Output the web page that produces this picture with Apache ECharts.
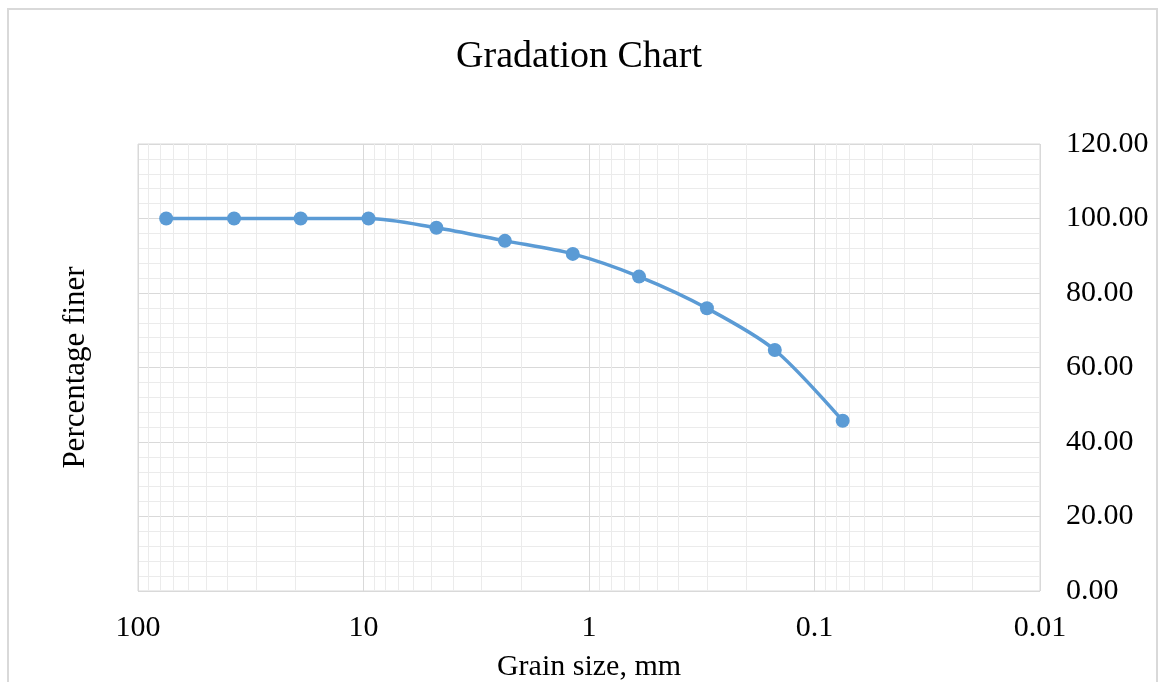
<!DOCTYPE html>
<html>
<head>
<meta charset="utf-8">
<script src="https://cdn.jsdelivr.net/npm/echarts@6/dist/echarts.min.js"></script>
<style>
  html, body { margin: 0; padding: 0; background: #fff; }
  #chart { width: 1158px; height: 682px; }
</style>
</head>
<body>
<div id="chart"></div>
<script>
// sieve sizes (mm) and percentage passing
var grainSize = [75, 37.5, 19, 9.5, 4.75, 2.36, 1.18, 0.6, 0.3, 0.15, 0.075];
var percentFiner = [100, 100, 100, 100, 97.5, 94.0, 90.5, 84.4, 75.9, 64.7, 45.7];
var xTickLabels = ["100", "10", "1", "0.1", "0.01"];

var serif = "'Liberation Serif', 'Times New Roman', serif";

// log minor grid lines at 2..9 of every decade
var minorX = [];
for (var e = -2; e <= 1; e++) {
  for (var k = 2; k <= 9; k++) {
    minorX.push({ xAxis: k * Math.pow(10, e) });
  }
}

var chart = echarts.init(document.getElementById("chart"));
chart.setOption({
  animation: false,
  backgroundColor: "#fff",
  title: {
    text: "Gradation Chart",
    left: "center",
    top: 33,
    textStyle: { fontFamily: serif, fontSize: 38, fontWeight: "normal", color: "#000" },
  },
  graphic: [
    {
      type: "rect",
      shape: { x: 8, y: 9, width: 1149, height: 720 },
      style: { fill: "none", stroke: "#d9d9d9", lineWidth: 2 },
      silent: true,
      z: -1,
    },
  ],
  grid: {
    left: 138,
    right: 118,
    top: 144,
    bottom: 91,
    show: true,
    borderColor: "#d9d9d9",
    borderWidth: 1,
    containLabel: false,
    outerBoundsMode: "none",
  },
  xAxis: {
    type: "log",
    logBase: 10,
    min: 0.01,
    max: 100,
    inverse: true,
    name: "Grain size, mm",
    nameLocation: "middle",
    nameGap: 61,
    nameTextStyle: { fontFamily: serif, fontSize: 30, color: "#000" },
    axisLine: { show: false },
    axisTick: { show: false },
    axisLabel: {
      fontFamily: serif,
      fontSize: 30,
      color: "#000",
      margin: 22,
      formatter: function (v) {
        var idx = Math.round(2 - Math.log10(v));
        return xTickLabels[idx];
      },
    },
    splitLine: { show: true, lineStyle: { color: "#d9d9d9", width: 1 } },
  },
  yAxis: [
    {
      type: "value",
      position: "right",
      min: 0,
      max: 120,
      interval: 20,
      axisLine: { show: false },
      axisTick: { show: false },
      axisLabel: {
        fontFamily: serif,
        fontSize: 30,
        color: "#000",
        margin: 26,
        formatter: function (v) { return v.toFixed(2); },
      },
      splitLine: { show: true, lineStyle: { color: "#d9d9d9", width: 1 } },
      minorTick: { show: false, splitNumber: 5 },
      minorSplitLine: { show: true, lineStyle: { color: "#ebebeb", width: 1 } },
    },
    {
      // left axis only carries the name
      type: "value",
      position: "left",
      min: 0,
      max: 120,
      interval: 20,
      name: "Percentage finer",
      nameLocation: "middle",
      nameRotate: 90,
      nameGap: 47,
      nameTextStyle: { fontFamily: serif, fontSize: 31, color: "#000" },
      axisLine: { show: false },
      axisTick: { show: false },
      axisLabel: { show: false },
      splitLine: { show: false },
    },
  ],
  series: [
    {
      type: "line",
      data: [],
      z: 1,
      silent: true,
      markLine: {
        silent: true,
        symbol: "none",
        label: { show: false },
        animation: false,
        lineStyle: { color: "#ebebeb", width: 1, type: "solid" },
        data: minorX,
      },
    },
    {
      type: "line",
      data: grainSize.map(function (s, i) { return [s, percentFiner[i]]; }),
      smooth: 0.3,
      symbol: "circle",
      symbolSize: 14,
      z: 5,
      lineStyle: { color: "#5b9bd5", width: 3.5 },
      itemStyle: { color: "#5b9bd5" },
    },
  ],
});
</script>
</body>
</html>
